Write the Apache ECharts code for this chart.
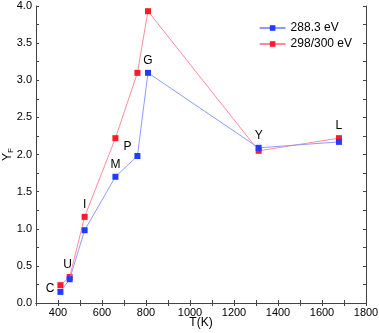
<!DOCTYPE html>
<html>
<head>
<meta charset="utf-8">
<script src="https://cdn.jsdelivr.net/npm/echarts@6/dist/echarts.min.js"></script>
<style>
  html, body { margin: 0; padding: 0; background: #fff; }
  #chart { width: 379px; height: 333px; }
</style>
</head>
<body>
<div id="chart"></div>
<script>
// Temperatures (K) for each sample point
const temps = [411, 453, 521, 661, 761, 809, 1312, 1677];
const pointNames = ['C', 'U', 'I', 'M', 'P', 'G', 'Y', 'L'];
// Y_F values
const yield288 = [0.15, 0.32, 0.98, 1.70, 1.98, 3.10, 2.09, 2.17];
const yield298 = [0.24, 0.35, 1.16, 2.22, 3.10, 3.93, 2.05, 2.22];
// which series carries each point label, and where
const labelOwner = ['blue', 'red', 'red', 'blue', 'blue', 'blue', 'blue', 'red'];
const labelPos = ['left', 'top', 'top', 'top', 'left', 'top', 'top', 'top'];

const font = 'Liberation Sans, Arial, sans-serif';

function buildData(vals, owner) {
    return vals.map((v, i) => {
        let item = { value: [temps[i], v] };
        if (labelOwner[i] === owner) {
            let off = [0, 0];
            if (pointNames[i] === 'P') off = [0, -9];
            if (pointNames[i] === 'C') off = [0, -3];
            if (pointNames[i] === 'U') off = [-2, 0];
            item.label = {
                show: true,
                formatter: pointNames[i],
                position: labelPos[i],
                offset: off,
                distance: 3,
                color: '#000',
                fontSize: 12,
                fontFamily: font
            };
        }
        return item;
    });
}

let tickLabelStyle = { color: '#000', fontSize: 11, fontFamily: font, margin: 4 };

let option = {
    animation: false,
    grid: { left: 36, right: 13, top: 6, bottom: 30, outerBoundsMode: 'none' },
    legend: {
        top: 17,
        right: 22,
        orient: 'vertical',
        itemWidth: 26,
        itemHeight: 7,
        itemGap: 4,
        textStyle: { color: '#000', fontSize: 12, fontFamily: font },
        data: ['288.3 eV', '298/300 eV']
    },
    xAxis: [{
        type: 'value',
        min: 300,
        max: 1800,
        interval: 100,
        name: 'T(K)',
        nameLocation: 'middle',
        nameGap: 14,
        nameMoveOverlap: false,
        nameTextStyle: { color: '#000', fontSize: 12, fontFamily: font },
        axisLine: { lineStyle: { color: '#444' } },
        axisTick: { inside: true, length: 3, lineStyle: { color: '#444' } },
        axisLabel: Object.assign({
            formatter: v => (v % 200 === 0 ? v : '')
        }, tickLabelStyle),
        splitLine: { show: false }
    }, {
        type: 'value',
        position: 'top',
        min: 300,
        max: 1800,
        interval: 100,
        axisLine: { show: true, lineStyle: { color: '#444' } },
        axisTick: { inside: true, length: 3, lineStyle: { color: '#444' } },
        axisLabel: { show: false },
        splitLine: { show: false }
    }],
    yAxis: [{
        type: 'value',
        min: 0,
        max: 4,
        interval: 0.25,
        name: '{a|Y}{b|F}',
        nameLocation: 'middle',
        nameGap: 21,
        nameMoveOverlap: false,
        nameTextStyle: {
            rich: {
                a: { color: '#000', fontSize: 12, fontFamily: font },
                b: { color: '#000', fontSize: 8, fontFamily: font, verticalAlign: 'bottom', padding: [6, 0, 0, 0] }
            }
        },
        axisLine: { show: true, lineStyle: { color: '#444' } },
        axisTick: { inside: true, length: 3, lineStyle: { color: '#444' } },
        axisLabel: Object.assign({
            formatter: v => (Math.abs(v * 2 - Math.round(v * 2)) < 1e-6 ? v.toFixed(1) : '')
        }, tickLabelStyle),
        splitLine: { show: false }
    }, {
        type: 'value',
        position: 'right',
        min: 0,
        max: 4,
        interval: 0.25,
        axisLine: { show: true, lineStyle: { color: '#444' } },
        axisTick: { inside: true, length: 3, lineStyle: { color: '#444' } },
        axisLabel: { show: false },
        splitLine: { show: false }
    }],
    series: [{
        name: '288.3 eV',
        type: 'line',
        symbol: 'rect',
        symbolSize: 6,
        itemStyle: { color: '#1f3dff' },
        lineStyle: { color: '#8c9cff', width: 1 },
        data: buildData(yield288, 'blue'),
        z: 3
    }, {
        name: '298/300 eV',
        type: 'line',
        symbol: 'rect',
        symbolSize: 6,
        itemStyle: { color: '#ff1a2a' },
        lineStyle: { color: '#ff8d98', width: 1 },
        data: buildData(yield298, 'red'),
        z: 2
    }]
};

let chart = echarts.init(document.getElementById('chart'));
chart.setOption(option);
</script>
</body>
</html>
